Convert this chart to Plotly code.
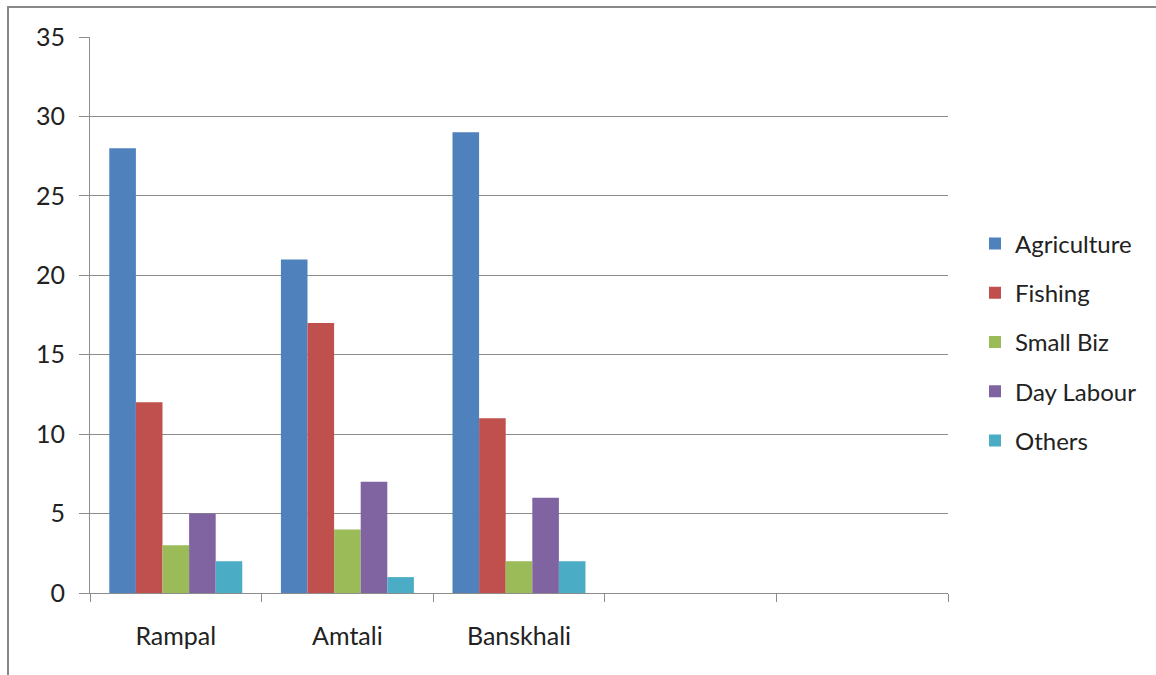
import plotly.graph_objects as go

# Survey counts by primary occupation in each upazila
categories = ["Rampal", "Amtali", "Banskhali", " ", "  "]
agriculture = [28, 21, 29]
fishing = [12, 17, 11]
small_biz = [3, 4, 2]
day_labour = [5, 7, 6]
others = [2, 1, 2]

series = [
    ("Agriculture", agriculture, "#4F81BD"),
    ("Fishing", fishing, "#C0504D"),
    ("Small Biz", small_biz, "#9BBB59"),
    ("Day Labour", day_labour, "#8064A2"),
    ("Others", others, "#4BACC6"),
]

FONT = "Lato, 'Open Sans', sans-serif"
GRID = "#8c8c8c"
FS = 25

fig = go.Figure()
for i, (name, vals, color) in enumerate(series):
    fig.add_trace(go.Bar(
        x=categories[:len(vals)],
        y=vals,
        name=name,
        marker=dict(color=color, line=dict(width=0)),
        legendgroup=f"g{i}",
    ))

W, H = 1156, 675
L, R, T, B = 90, 208, 37, 82
pw, ph = W - L - R, H - T - B

fig.update_layout(
    width=W, height=H,
    margin=dict(l=L, r=R, t=T, b=B, autoexpand=False),
    paper_bgcolor="white",
    plot_bgcolor="white",
    barmode="group",
    bargap=0.225,
    bargroupgap=0,
    font=dict(family=FONT, size=FS, color="#222222"),
    showlegend=True,
    legend=dict(
        x=(975 - L) / pw,
        xanchor="left",
        y=1 - (342 - T) / ph,
        yanchor="middle",
        tracegroupgap=15,
        font=dict(size=24, family=FONT, color="#222222"),
        itemwidth=30,
        bgcolor="rgba(0,0,0,0)",
    ),
    xaxis=dict(
        type="category",
        categoryorder="array",
        categoryarray=categories,
        range=[-0.5, 4.5],
        showgrid=False,
        showline=True,
        linecolor=GRID,
        linewidth=1,
        ticks="outside",
        tickson="boundaries",
        ticklen=8,
        tickcolor=GRID,
        ticklabelstandoff=21,
        tickfont=dict(size=FS, family=FONT, color="#222222"),
    ),
    yaxis=dict(
        range=[0, 35],
        tickvals=[0, 5, 10, 15, 20, 25, 30, 35],
        showgrid=True,
        gridcolor=GRID,
        gridwidth=1,
        zeroline=False,
        showline=True,
        linecolor=GRID,
        linewidth=1,
        ticks="outside",
        ticklen=10,
        tickcolor=GRID,
        ticklabelstandoff=9,
        tickfont=dict(size=FS, family=FONT, color="#222222"),
    ),
    shapes=[dict(
        type="rect",
        xref="paper", yref="paper",
        x0=(8 - L) / pw, x1=(W + 10 - L) / pw,
        y0=1 - (H + 10 - T) / ph, y1=1 + (T - 7) / ph,
        line=dict(color="#888888", width=2),
        fillcolor="rgba(0,0,0,0)",
        layer="above",
    )],
)

fig.write_html("out.html")
